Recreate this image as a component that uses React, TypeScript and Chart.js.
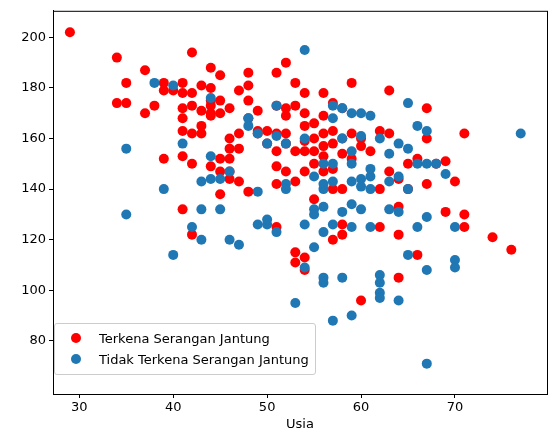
import React, { useEffect, useRef } from 'react';
import { Chart, registerables } from 'chart.js';

Chart.register(...registerables);

const redAge = [29,34,34,35,35,37,37,38,39,39,39,40,41,41,41,41,41,41,41,42,42,42,42,42,42,43,43,43,43,44,44,44,44,44,44,44,45,45,45,45,45,45,46,46,46,46,46,46,47,47,47,47,48,48,48,48,48,49,49,49,50,50,51,51,51,51,51,51,51,52,52,52,52,52,52,53,53,53,53,53,53,54,54,54,54,54,54,54,54,55,55,55,55,55,56,56,56,56,56,56,57,57,57,57,57,58,58,58,58,58,59,59,59,60,60,61,62,62,63,63,63,64,64,64,64,65,65,66,66,67,67,67,68,69,69,70,71,71,71,74,76,58,62,60,57];
const redRate = [202,192,174,182,174,187,170,173,182,179,152,179,182,178,172,168,163,153,132,194,178,173,162,150,122,181,171,165,162,188,180,175,173,170,169,149,185,175,170,152,147,138,172,160,156,152,147,144,179,162,156,143,186,181,175,168,139,171,163,162,163,158,186,173,162,155,149,142,125,190,172,162,158,147,169,182,173,155,143,115,111,178,170,165,159,155,147,113,108,166,160,155,150,136,178,169,162,157,153,147,174,163,158,148,140,172,160,154,140,122,182,162,152,160,96,155,163,140,179,162,147,133,144,122,105,150,140,152,114,172,160,142,150,131,151,143,162,130,125,121,116,126,125,157,120];
const blueAge = [35,35,38,39,40,40,41,42,43,43,43,44,44,44,45,45,46,46,47,48,48,49,49,49,50,50,50,51,51,51,52,52,52,53,54,54,54,54,55,55,55,55,56,56,56,56,56,56,57,57,57,57,57,57,58,58,58,58,59,59,59,59,59,59,59,60,60,60,60,60,61,61,61,61,62,62,62,62,62,63,63,63,64,64,64,64,65,65,65,65,66,66,66,67,67,67,67,67,68,69,70,70,70,77,56,61];
const blueRate = [156,130,182,140,181,114,158,125,132,120,143,176,153,144,144,132,120,147,118,168,165,126,139,162,126,128,158,173,123,161,158,142,140,95,195,160,126,109,132,130,117,145,150,140,105,103,123,142,150,143,126,88,173,168,172,131,160,105,170,155,150,143,134,90,125,170,144,141,132,161,169,145,125,140,160,106,103,99,97,154,132,143,158,145,131,96,174,114,140,156,165,150,125,150,163,108,71,129,150,146,125,112,109,162,133,148];

const font = { family: 'DejaVu Sans', size: 13 };

const frame = {
  id: 'frame',
  afterDraw(c: Chart) {
    const { ctx, chartArea: a } = c;
    ctx.save();
    ctx.strokeStyle = '#000';
    ctx.lineWidth = 1;
    ctx.strokeRect(a.left + 0.5, a.top + 0.5, a.right - a.left, a.bottom - a.top);
    ctx.restore();
  },
};

const App: React.FC = () => {
  const ref = useRef<HTMLCanvasElement>(null);

  useEffect(() => {
    document.body.style.margin = '0';
    if (!ref.current) return;
    const chart = new Chart(ref.current, {
      type: 'scatter',
      data: {
        datasets: [
          {
            label: 'Terkena Serangan Jantung',
            data: redAge.map((x, i) => ({ x, y: redRate[i] })),
            backgroundColor: '#ff0000',
            borderWidth: 0,
            pointRadius: 5,
            order: 2,
          },
          {
            label: 'Tidak Terkena Serangan Jantung',
            data: blueAge.map((x, i) => ({ x, y: blueRate[i] })),
            backgroundColor: '#1f77b4',
            borderWidth: 0,
            pointRadius: 5,
            order: 1,
          },
        ],
      },
      options: {
        responsive: false,
        animation: false,
        layout: { padding: { top: 5, right: 5, left: 0, bottom: 0 } },
        plugins: { legend: { display: false }, tooltip: { enabled: false } },
        scales: {
          x: {
            min: 27.2,
            max: 79.8,
            afterBuildTicks: (s: any) => { s.ticks = [30, 40, 50, 60, 70].map((v) => ({ value: v })); },
            afterFit: (s: any) => { s.height = 38; },
            grid: { drawOnChartArea: false, color: '#000', tickLength: 4 },
            border: { color: '#000' },
            ticks: { color: '#000', font, maxRotation: 0, padding: 2 },
            title: { display: true, text: 'Usia', color: '#000', font, padding: 0 },
          },
          y: {
            min: 59,
            max: 210.5,
            afterBuildTicks: (s: any) => { s.ticks = [80, 100, 120, 140, 160, 180, 200].map((v) => ({ value: v })); },
            afterFit: (s: any) => { s.width = 53; },
            grid: { drawOnChartArea: false, color: '#000', tickLength: 4 },
            border: { color: '#000' },
            ticks: { color: '#000', font, padding: 3 },
          },
        },
      },
      plugins: [frame],
    });
    return () => chart.destroy();
  }, []);

  const dot = (c: string) => (
    <span style={{ display: 'inline-block', width: 10, height: 10, borderRadius: 5, background: c, marginRight: 18 }} />
  );

  return (
    <div style={{ position: 'relative', width: 552, height: 432, fontFamily: 'DejaVu Sans', fontSize: 13 }}>
      <canvas ref={ref} width={552} height={432} />
      <div
        style={{
          position: 'absolute', left: 54, top: 323, padding: '4px 6px 4px 16px',
          border: '1px solid #ccc', borderRadius: 3, background: 'rgba(255,255,255,0.8)', lineHeight: '21px',
        }}
      >
        <div>{dot('#ff0000')}Terkena Serangan Jantung</div>
        <div>{dot('#1f77b4')}Tidak Terkena Serangan Jantung</div>
      </div>
    </div>
  );
};

export default App;
